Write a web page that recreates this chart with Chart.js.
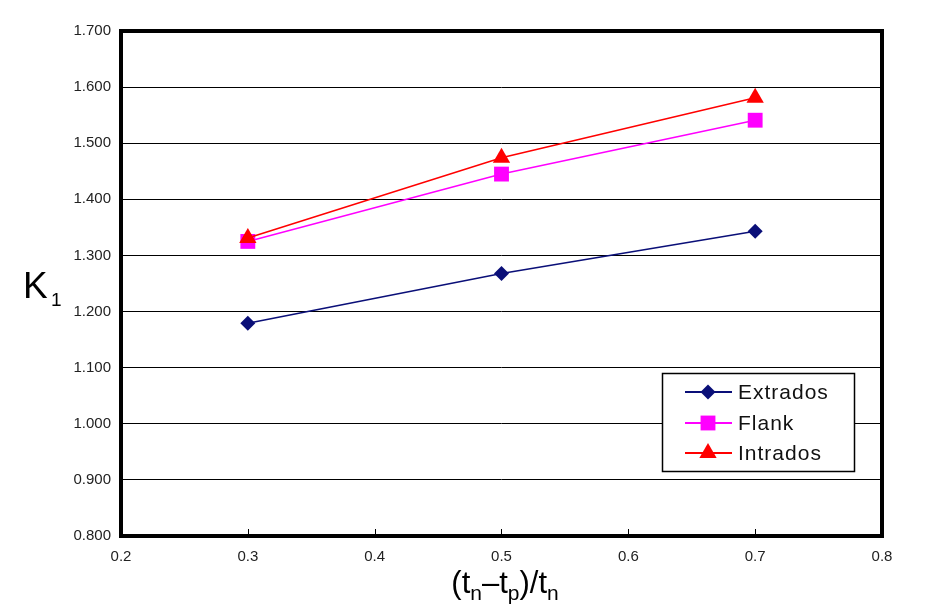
<!DOCTYPE html>
<html><head><meta charset="utf-8">
<script src="https://cdn.jsdelivr.net/npm/chart.js@4.4.0/dist/chart.umd.min.js"></script>
<style>html,body{margin:0;padding:0;background:#fff;}#wrap{width:928px;height:615px;position:relative}</style>
</head><body><div id="wrap"><canvas id="c" width="928" height="615"></canvas></div>
<script>
// ---- data ----
const xValues = [0.3, 0.5, 0.7];
const extrados = [1.179, 1.268, 1.343];
const flank = [1.325, 1.445, 1.541];
const intrados = [1.331, 1.474, 1.581];
const seriesNames = ['Extrados', 'Flank', 'Intrados'];
const yTickValues = [0.8, 0.9, 1.0, 1.1, 1.2, 1.3, 1.4, 1.5, 1.6, 1.7];
const xTickValues = [0.2, 0.3, 0.4, 0.5, 0.6, 0.7, 0.8];

const toPts = (ys) => ys.map((y, i) => ({x: xValues[i], y: y}));
const FONT = '"Liberation Sans", Arial, sans-serif';

const styles = [
  {color: '#0a0f78', pointStyle: 'rectRot', radius: 7.5},
  {color: '#ff00ff', pointStyle: 'rect', radius: 10.5},
  {color: '#ff0000', pointStyle: 'triangle', radius: 10}
];
const seriesData = [extrados, flank, intrados];

const datasets = seriesData.map((d, i) => ({
  label: seriesNames[i],
  data: toPts(d),
  borderColor: styles[i].color,
  backgroundColor: styles[i].color,
  borderWidth: 1.5,
  pointStyle: styles[i].pointStyle,
  pointRadius: styles[i].radius,
  pointBorderWidth: 0,
  pointBackgroundColor: styles[i].color,
  order: 2 - i,
  tension: 0
}));

function drawMarker(ctx, style, x, y, r, color) {
  ctx.save();
  ctx.fillStyle = color;
  ctx.beginPath();
  if (style === 'rectRot') {
    ctx.moveTo(x, y - r); ctx.lineTo(x + r, y); ctx.lineTo(x, y + r); ctx.lineTo(x - r, y); ctx.closePath();
  } else if (style === 'rect') {
    const s = r * Math.SQRT1_2;
    ctx.rect(x - s, y - s, 2 * s, 2 * s);
  } else if (style === 'triangle') {
    const h = r * Math.sqrt(3) / 2;
    ctx.moveTo(x, y - r); ctx.lineTo(x + h, y + r / 2); ctx.lineTo(x - h, y + r / 2); ctx.closePath();
  }
  ctx.fill();
  ctx.restore();
}

const decor = {
  id: 'decor',
  afterDraw(chart) {
    const ctx = chart.ctx;
    const a = chart.chartArea;
    const xs = chart.scales.x;
    ctx.save();
    // x tick marks (inside)
    ctx.strokeStyle = '#000'; ctx.lineWidth = 1;
    xTickValues.forEach(v => {
      const px = Math.round(xs.getPixelForValue(v)) + 0.5;
      ctx.beginPath(); ctx.moveTo(px, a.bottom); ctx.lineTo(px, a.bottom - 7); ctx.stroke();
    });
    // frame
    ctx.lineWidth = 4;
    ctx.strokeRect(a.left, a.top, a.right - a.left, a.bottom - a.top);

    // legend
    const lx = 662, ly = 373, lw = 192, lh = 98;
    ctx.fillStyle = '#fff';
    ctx.fillRect(lx, ly, lw, lh);
    ctx.lineWidth = 1.5; ctx.strokeStyle = '#000';
    ctx.strokeRect(lx + 0.5, ly + 0.5, lw, lh);
    const rowsY = [392, 423, 453];
    chart.data.datasets.forEach((ds, i) => {
      const y = rowsY[i];
      ctx.strokeStyle = ds.borderColor; ctx.lineWidth = 2;
      ctx.beginPath(); ctx.moveTo(685, y); ctx.lineTo(732, y); ctx.stroke();
      const st = styles[i];
      drawMarker(ctx, st.pointStyle, 708, y, st.radius, st.color);
      ctx.fillStyle = '#111';
      ctx.font = '21px ' + FONT;
      ctx.letterSpacing = '1px';
      ctx.textBaseline = 'middle';
      ctx.textAlign = 'left';
      ctx.fillText(ds.label, 738, y + 1);
    });
    ctx.letterSpacing = '0px';

    // y axis title K1
    ctx.fillStyle = '#000';
    ctx.textBaseline = 'alphabetic';
    ctx.font = '37px ' + FONT;
    ctx.fillText('K', 23, 298);
    ctx.font = '19px ' + FONT;
    ctx.fillText('1', 51, 306);

    // x axis title (tn-tp)/tn
    const runs = [
      ['(', 0], ['t', 0], ['n', 1], ['\u2013', 0], ['t', 0], ['p', 1], [')/', 0], ['t', 0], ['n', 1]
    ];
    const mainF = '31px ' + FONT, subF = '21px ' + FONT;
    let total = 0;
    runs.forEach(r => { ctx.font = r[1] ? subF : mainF; total += ctx.measureText(r[0]).width; });
    let cx = 505 - total / 2;
    runs.forEach(r => {
      ctx.font = r[1] ? subF : mainF;
      let t = r[0];
      ctx.fillText(t, cx, r[1] ? 600 : 593);
      cx += ctx.measureText(t).width;
    });
    ctx.restore();
  }
};

new Chart(document.getElementById('c'), {
  type: 'line',
  data: {datasets: datasets},
  options: {
    responsive: false,
    animation: false,
    devicePixelRatio: 1,
    layout: {padding: {top: 31, right: 46, left: 0, bottom: 0}},
    plugins: {legend: {display: false}, tooltip: {enabled: false}},
    scales: {
      x: {
        type: 'linear', min: 0.2, max: 0.8,
        afterFit: s => { s.height = 79; },
        afterBuildTicks: s => { s.ticks = xTickValues.map(v => ({value: v})); },
        grid: {display: false, drawTicks: false},
        border: {display: false},
        ticks: {padding: 12, color: '#222', font: {family: FONT, size: 15}, callback: v => v.toFixed(1)}
      },
      y: {
        type: 'linear', min: 0.8, max: 1.7,
        afterFit: s => { s.width = 121; },
        afterBuildTicks: s => { s.ticks = yTickValues.map(v => ({value: v})); },
        grid: {color: '#000', lineWidth: 1, drawTicks: false},
        border: {display: false},
        ticks: {padding: 10, color: '#222', font: {family: FONT, size: 15}, callback: v => v.toFixed(3)}
      }
    }
  },
  plugins: [decor]
});
</script></body></html>
